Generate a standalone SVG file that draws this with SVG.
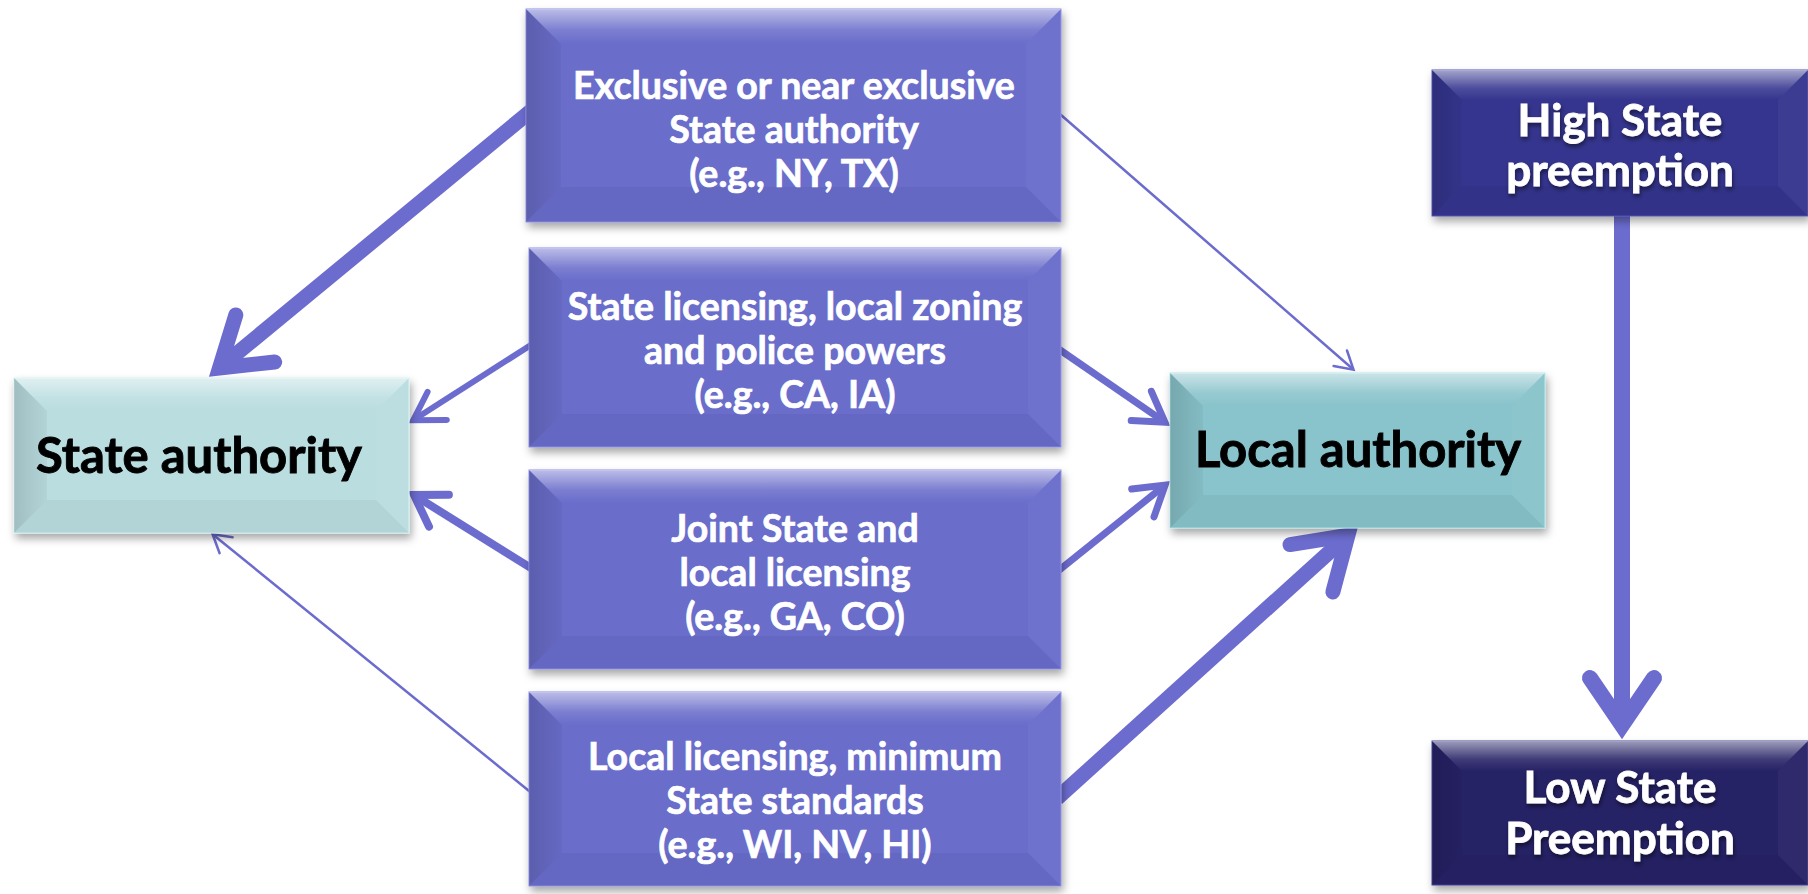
<svg xmlns="http://www.w3.org/2000/svg" width="1808" height="894" viewBox="0 0 1808 894">
<defs>
<style>
.mid{fill:#6B6DCA;stroke:#8E90E6;stroke-width:1}
.sa{fill:#BADDE0;stroke:#D6F4F4;stroke-width:1}
.la{fill:#89C3CB;stroke:#B5E8EC;stroke-width:1}
.hi{fill:#35358F;stroke:#5557B8;stroke-width:1}
.lo{fill:#262466;stroke:#45449A;stroke-width:1}
.bt{fill:url(#gTop)}
.bl{fill:url(#gLeft)}
.br{fill:#fff;fill-opacity:0.04}
.bb{fill:#000;fill-opacity:0.04}
.txt{font-family:Lato,"Open Sans","Liberation Sans",sans-serif;font-weight:700;text-anchor:middle}
.mt{font-size:37.5px;fill:#fff;stroke:#fff;stroke-width:0.7}
.big{font-size:49px;fill:#000;stroke:#000;stroke-width:0.9}
.dt{font-size:44px;fill:#fff;stroke:#fff;stroke-width:0.8}
.sh{stroke:#6C6CCF;fill:none;stroke-linecap:butt}
.ah{stroke:#6C6CCF;fill:none;stroke-linecap:round;stroke-linejoin:miter;stroke-miterlimit:10}
</style>
<linearGradient id="gTop" x1="0" y1="0" x2="0" y2="1">
<stop offset="0" stop-color="#fff" stop-opacity="0.55"/>
<stop offset="0.6" stop-color="#fff" stop-opacity="0.12"/>
<stop offset="1" stop-color="#fff" stop-opacity="0"/>
</linearGradient>
<linearGradient id="gLeft" x1="0" y1="0" x2="1" y2="0">
<stop offset="0" stop-color="#000" stop-opacity="0.14"/>
<stop offset="1" stop-color="#000" stop-opacity="0.04"/>
</linearGradient>
<filter id="shadow" x="-10%" y="-10%" width="120%" height="130%">
<feDropShadow dx="2" dy="5" stdDeviation="4" flood-color="#000" flood-opacity="0.35"/>
</filter>
<filter id="tshadow" x="-10%" y="-20%" width="120%" height="150%">
<feDropShadow dx="1" dy="3" stdDeviation="2" flood-color="#000" flood-opacity="0.5"/>
</filter>
</defs>
<rect width="1808" height="894" fill="#fff"/>

<g id="connectors">
<line class="sh" stroke-width="15" x1="532" y1="110" x2="221" y2="366.5"/>
<path class="ah" stroke-width="15" d="M235.8,315 L219.5,368 L274.7,362"/>
<line class="sh" stroke-width="6" x1="536" y1="341.7" x2="415" y2="419"/>
<path class="ah" stroke-width="6" d="M427.6,391.9 L413.2,420.3 L446.8,419.9"/>
<line class="sh" stroke-width="8" x1="536" y1="571.2" x2="416" y2="496.3"/>
<path class="ah" stroke-width="8" d="M429,526.6 L414,495 L448.9,494.8"/>
<line class="sh" stroke-width="2.5" x1="535.2" y1="796" x2="213.5" y2="535"/>
<path class="ah" stroke-width="2.5" d="M219.6,553.2 L212.6,534.3 L232.6,537.2"/>
<line class="sh" stroke-width="2.5" x1="1055" y1="109.7" x2="1352.5" y2="368.8"/>
<path class="ah" stroke-width="2.5" d="M1347,350.5 L1353.5,369.7 L1333.6,366"/>
<line class="sh" stroke-width="7" x1="1056.4" y1="347.5" x2="1163" y2="420.9"/>
<path class="ah" stroke-width="7" d="M1151.4,391.3 L1164.9,422.2 L1131.2,420.6"/>
<line class="sh" stroke-width="7" x1="1056.8" y1="572" x2="1163" y2="486.7"/>
<path class="ah" stroke-width="7" d="M1131.7,489.1 L1165.1,485.1 L1154,516.9"/>
<line class="sh" stroke-width="15" x1="1057" y1="798.4" x2="1346.5" y2="536.6"/>
<path class="ah" stroke-width="15" d="M1290,544.6 L1348,535.3 L1332.9,591.9"/>
<line class="sh" stroke-width="16" x1="1622" y1="210" x2="1622" y2="723"/>
<path class="ah" stroke-width="16" d="M1590,678 L1622,725 L1654,678"/>
</g>

<g id="node-exclusive">
<g filter="url(#shadow)"><rect class="mid" x="526" y="9" width="535" height="213"/></g>
<path class="bt" d="M526,9 H1061 L1026,44 H561 Z"/>
<path class="bl" d="M526,9 L561,44 V187 L526,222 Z"/>
<path class="br" d="M1061,9 V222 L1026,187 V44 Z"/>
<path class="bb" d="M526,222 L561,187 H1026 L1061,222 Z"/>
<text class="txt mt" x="794" y="99">Exclusive or near exclusive</text>
<text class="txt mt" x="794" y="143">State authority</text>
<text class="txt mt" x="794" y="187">(e.g., NY, TX)</text>
</g>

<g id="node-state-licensing">
<g filter="url(#shadow)"><rect class="mid" x="529" y="248" width="532" height="199"/></g>
<path class="bt" d="M529,248 H1061 L1028,281 H562 Z"/>
<path class="bl" d="M529,248 L562,281 V414 L529,447 Z"/>
<path class="br" d="M1061,248 V447 L1028,414 V281 Z"/>
<path class="bb" d="M529,447 L562,414 H1028 L1061,447 Z"/>
<text class="txt mt" x="795" y="320">State licensing, local zoning</text>
<text class="txt mt" x="795" y="364">and police powers</text>
<text class="txt mt" x="795" y="408">(e.g., CA, IA)</text>
</g>

<g id="node-joint">
<g filter="url(#shadow)"><rect class="mid" x="529" y="470" width="532" height="199"/></g>
<path class="bt" d="M529,470 H1061 L1028,503 H562 Z"/>
<path class="bl" d="M529,470 L562,503 V636 L529,669 Z"/>
<path class="br" d="M1061,470 V669 L1028,636 V503 Z"/>
<path class="bb" d="M529,669 L562,636 H1028 L1061,669 Z"/>
<text class="txt mt" x="795" y="542">Joint State and</text>
<text class="txt mt" x="795" y="586">local licensing</text>
<text class="txt mt" x="795" y="630">(e.g., GA, CO)</text>
</g>

<g id="node-local-licensing">
<g filter="url(#shadow)"><rect class="mid" x="529" y="692" width="532" height="194"/></g>
<path class="bt" d="M529,692 H1061 L1028,725 H562 Z"/>
<path class="bl" d="M529,692 L562,725 V853 L529,886 Z"/>
<path class="br" d="M1061,692 V886 L1028,853 V725 Z"/>
<path class="bb" d="M529,886 L562,853 H1028 L1061,886 Z"/>
<text class="txt mt" x="795" y="770">Local licensing, minimum</text>
<text class="txt mt" x="795" y="814">State standards</text>
<text class="txt mt" x="795" y="858">(e.g., WI, NV, HI)</text>
</g>

<g id="node-state-authority">
<g filter="url(#shadow)"><rect class="sa" x="14" y="378" width="395" height="155"/></g>
<path class="bt" d="M14,378 H409 L376,411 H47 Z"/>
<path class="bl" d="M14,378 L47,411 V500 L14,533 Z"/>
<path class="br" d="M409,378 V533 L376,500 V411 Z"/>
<path class="bb" d="M14,533 L47,500 H376 L409,533 Z"/>
<text class="txt big" x="199" y="473">State authority</text>
</g>

<g id="node-local-authority">
<g filter="url(#shadow)"><rect class="la" x="1170" y="373" width="375" height="155"/></g>
<path class="bt" d="M1170,373 H1545 L1512,406 H1203 Z"/>
<path class="bl" d="M1170,373 L1203,406 V495 L1170,528 Z"/>
<path class="br" d="M1545,373 V528 L1512,495 V406 Z"/>
<path class="bb" d="M1170,528 L1203,495 H1512 L1545,528 Z"/>
<text class="txt big" x="1358" y="467">Local authority</text>
</g>

<g id="node-high">
<g filter="url(#shadow)"><rect class="hi" x="1432" y="70" width="376" height="146"/></g>
<path class="bt" d="M1432,70 H1808 L1778,100 H1462 Z"/>
<path class="bl" d="M1432,70 L1462,100 V186 L1432,216 Z"/>
<path class="br" d="M1808,70 V216 L1778,186 V100 Z"/>
<path class="bb" d="M1432,216 L1462,186 H1778 L1808,216 Z"/>
<g filter="url(#tshadow)">
<text class="txt dt" x="1620" y="136">High State</text>
<text class="txt dt" x="1620" y="186">preemption</text>
</g>
</g>

<g id="node-low">
<g filter="url(#shadow)"><rect class="lo" x="1432" y="741" width="376" height="144"/></g>
<path class="bt" d="M1432,741 H1808 L1778,771 H1462 Z"/>
<path class="bl" d="M1432,741 L1462,771 V855 L1432,885 Z"/>
<path class="br" d="M1808,741 V885 L1778,855 V771 Z"/>
<path class="bb" d="M1432,885 L1462,855 H1778 L1808,885 Z"/>
<g filter="url(#tshadow)">
<text class="txt dt" x="1620" y="803">Low State</text>
<text class="txt dt" x="1620" y="854">Preemption</text>
</g>
</g>
</svg>
